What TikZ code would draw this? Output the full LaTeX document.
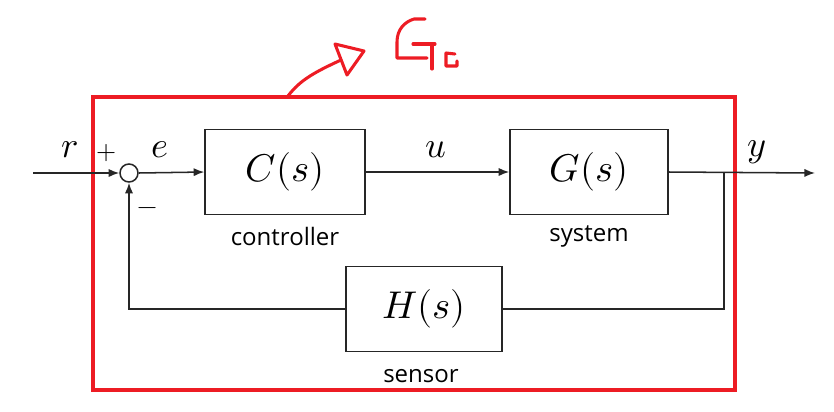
\documentclass[tikz,border=0pt]{standalone}
\usepackage{fontspec}
\usepackage{unicode-math}
\setmathfont{Latin Modern Math}
\setsansfont{Open Sans}
\usetikzlibrary{arrows.meta}
\definecolor{pred}{RGB}{237,28,36}
\tikzset{
  blk/.style={draw=black!85, line width=1.3pt, minimum width=160*0.03cm, minimum height=85*0.03cm, inner sep=0pt, font=\fontsize{33}{40}\selectfont},
  wire/.style={draw=black!85, line width=1.3pt},
  arr/.style={wire, -{Latex[length=9pt,width=7pt]}},
  sig/.style={font=\fontsize{31}{36}\selectfont, inner sep=0pt},
  caption/.style={font=\sffamily\fontsize{20.5}{24}\selectfont, inner sep=0pt},
  hand/.style={draw=pred, line width=2.6pt, line cap=round, line join=round},
}
\begin{document}
\begin{tikzpicture}[x=0.03cm, y=-0.03cm]
\useasboundingbox (0,0) rectangle (834,411);
% red frame
\draw[pred, line width=2.6pt] (93,97) rectangle (735,390);
% blocks
\node[blk] (C) at (285,172) {$C(s)$};
\node[blk, minimum width=158*0.03cm] (G) at (589,172) {$G(s)$};
\node[blk, minimum width=156*0.03cm] (H) at (424,309) {$H(s)$};
\node[caption] (lc) at (285,236) {controller};
\node[caption] (ls) at (589,236) {system};
\node[caption] (lh) at (421,376) {sensor};
% summing junction
\node[circle, draw=black!85, line width=1.3pt, minimum size=18*0.03cm, inner sep=0pt] (S) at (129,173) {};
\coordinate (in) at (33,173);
\coordinate (out) at (815,173);
\coordinate (br) at (724,173);
\coordinate (brd) at (724,309);
\coordinate (fbl) at (129,309);
% wires
\draw[arr] (in) -- (S.west);
\draw[arr] (S.east) -- (C.west);
\draw[arr] (C.east) -- (G.west);
\draw[arr] (G.east) -- (out);
\draw[wire] (br) -- (brd) -- (H.east);
\draw[arr] (H.west) -- (fbl) -- (S.south);
% signal labels
\node[sig] (r) at (70,150) {$r$};
\node[sig] (e) at (160,150) {$e$};
\node[sig] (u) at (436,150) {$u$};
\node[sig] (y) at (757,152) {$y$};
\node[font=\fontsize{22}{26}\selectfont, inner sep=0pt] (plus) at (107,153) {$+$};
\node[font=\fontsize{22}{26}\selectfont, inner sep=0pt] (minus) at (148,211) {$-$};
% handwritten G_c
\draw[hand] (288,96) .. controls (300,80) and (315,72) .. (341,60);
\draw[hand] (335,44) -- (364,51) -- (347,75) -- cycle;
\draw[hand] (425,19) -- (414,19) .. controls (404,22) and (397,30) .. (397,42) -- (397,58) -- (427,58);
\draw[hand] (413,44) -- (435,44);
\draw[hand] (432,44) -- (432,69);
\draw[hand] (455,54) -- (446,53) -- (446,66) -- (457,66) -- (457,61);
\end{tikzpicture}
\end{document}
